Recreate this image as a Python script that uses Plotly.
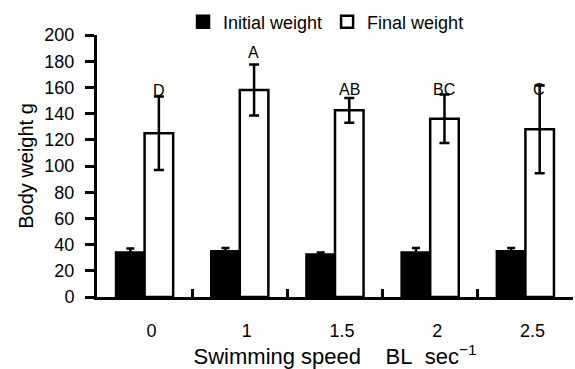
import plotly.graph_objects as go

categories = ["0", "1", "1.5", "2", "2.5"]
initial_weight = [34, 35, 32.5, 34, 35]
initial_err = [3, 2.5, 1.5, 3.5, 2.5]
final_weight = [125, 158, 142.5, 136, 128]
final_err = [28, 19.5, 9.5, 18.5, 33.5]
letters = ["D", "A", "AB", "BC", "C"]
letter_y = [158, 187, 158.5, 158.5, 158.5]

FONT = "Arial, Liberation Sans, sans-serif"

fig = go.Figure()
fig.add_trace(go.Bar(
    name="Initial weight", x=categories, y=initial_weight,
    marker=dict(color="black", line=dict(color="black", width=2.5)),
    error_y=dict(type="data", array=initial_err, visible=True,
                 color="black", thickness=2.5, width=4),
))
fig.add_trace(go.Bar(
    name="Final weight", x=categories, y=final_weight,
    marker=dict(color="white", line=dict(color="black", width=2.5)),
    error_y=dict(type="data", array=final_err, visible=True,
                 color="black", thickness=2.5, width=5),
))

for i, (t, yv) in enumerate(zip(letters, letter_y)):
    fig.add_annotation(x=i, y=yv, text=t, showarrow=False, xshift=14,
                       font=dict(family=FONT, size=16, color="black"))

fig.update_layout(
    width=575, height=369,
    margin=dict(l=97, r=2, t=35, b=72, autoexpand=False),
    paper_bgcolor="white", plot_bgcolor="white",
    barmode="group", bargap=0.40, bargroupgap=0,
    font=dict(family=FONT, color="black", size=18),
    showlegend=True,
    legend=dict(orientation="h", xref="container", yref="container",
                x=0.567, xanchor="center", y=0.94, yanchor="middle",
                font=dict(size=18), bgcolor="rgba(0,0,0,0)", itemwidth=30),
    xaxis=dict(
        type="category", tickson="boundaries", ticks="inside", ticklen=8, tickwidth=2.5,
        tickcolor="black", showline=True, linecolor="black", linewidth=3,
        showgrid=False, zeroline=False, tickfont=dict(size=18), automargin=False,
        ticklabelshift=7, ticklabelstandoff=15,
        title=dict(text="Swimming speed\u00a0\u00a0\u00a0 BL\u00a0\u00a0sec<sup>\u22121</sup>",
                   font=dict(size=22), standoff=11),
    ),
    yaxis=dict(
        range=[0, 200], tickmode="linear", tick0=0, dtick=20,
        ticks="outside", ticklen=9, tickwidth=2.5, tickcolor="black",
        showline=True, linecolor="black", linewidth=3, automargin=False,
        showgrid=False, zeroline=False, tickfont=dict(size=18),
        ticklabelstandoff=7,
        title=dict(text="Body weight g", font=dict(size=20), standoff=6),
    ),
)

fig.write_html(
    "out.html",
    config={"displayModeBar": False},
    post_script="document.body.style.margin='0';document.body.style.overflow='hidden';",
)
